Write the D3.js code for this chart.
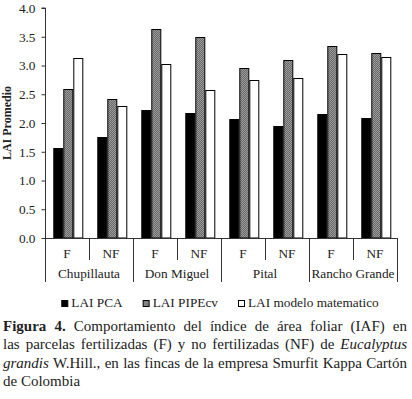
<!DOCTYPE html>
<html>
<head>
<meta charset="utf-8">
<script src="https://cdn.jsdelivr.net/npm/d3@7"></script>
<style>
  body { margin: 0; background: #fff; }
  #wrap { position: relative; width: 412px; height: 399px; overflow: hidden; }
  svg { position: absolute; left: 0; top: 0; }
  #caption { position: absolute; left: 3px; top: 317px; width: 404px;
             font-family: "Liberation Serif", "Times New Roman", serif; font-size: 15px;
             line-height: 18.3px; color: #222; }
  #caption div { text-align: justify; text-align-last: justify; white-space: nowrap; }
  #caption div.last { text-align-last: left; }
</style>
</head>
<body>
<div id="wrap">
  <div id="chart"></div>
  <div id="caption">
    <div><b>Figura 4.</b> Comportamiento del índice de área foliar (IAF) en</div>
    <div>las parcelas fertilizadas (F) y no fertilizadas (NF) de <i>Eucalyptus</i></div>
    <div><i>grandis</i> W.Hill., en las fincas de la empresa Smurfit Kappa Cartón</div>
    <div class="last">de Colombia</div>
  </div>
</div>
<script>
// fincas y tratamientos
var sites = ["Chupillauta", "Don Miguel", "Pital", "Rancho Grande"];
var treatments = ["F", "NF"];
var seriesNames = ["LAI PCA", "LAI PIPEcv", "LAI modelo matematico"];

// valores (orden: Chup F, Chup NF, DM F, DM NF, Pital F, Pital NF, RG F, RG NF)
var laiPCA    = [1.56, 1.75, 2.22, 2.18, 2.07, 1.95, 2.15, 2.08];
var laiPIPEcv = [2.59, 2.41, 3.63, 3.49, 2.96, 3.09, 3.34, 3.21];
var laiModelo = [3.13, 2.30, 3.02, 2.58, 2.74, 2.79, 3.20, 3.14];

var yTicks = [0, 0.5, 1, 1.5, 2, 2.5, 3, 3.5, 4];

var width = 412, height = 399;
var serif = "'Liberation Serif', 'Times New Roman', serif";

var cats = [];
sites.forEach(function(s) { treatments.forEach(function(t) { cats.push(s + "|" + t); }); });

var rows = cats.map(function(c, i) {
  return { key: c, site: c.split("|")[0], trt: c.split("|")[1], values: [laiPCA[i], laiPIPEcv[i], laiModelo[i]] };
});

var svg = d3.select("#chart").append("svg")
    .attr("width", width)
    .attr("height", height);

var defs = svg.append("defs");
var pat = defs.append("pattern")
    .attr("id", "dots")
    .attr("width", 2).attr("height", 2)
    .attr("patternUnits", "userSpaceOnUse");
pat.append("rect").attr("width", 2).attr("height", 2).attr("fill", "#9a9a9a");
pat.append("rect").attr("width", 1).attr("height", 1).attr("fill", "#6a6a6a");
pat.append("rect").attr("x", 1).attr("y", 1).attr("width", 1).attr("height", 1).attr("fill", "#6a6a6a");

var fills = ["#000", "url(#dots)", "#fff"];

var xScale = d3.scaleBand()
    .domain(cats)
    .range([45, 397]);

var xInner = d3.scaleBand()
    .domain(d3.range(3))
    .range([8.3, 38.3]);

var yScale = d3.scaleLinear()
    .domain([0, 4])
    .range([238, 8]);

// barras
var groups = svg.selectAll(".grp")
    .data(rows)
  .enter()
    .append("g")
    .attr("class", "grp")
    .attr("transform", function(d) { return "translate(" + xScale(d.key) + ",0)"; });

groups.selectAll("rect")
    .data(function(d) { return d.values; })
  .enter()
    .append("rect")
    .attr("x", function(d, i) { return xInner(i) + 0.5; })
    .attr("y", function(d) { return Math.round(yScale(d)) + 0.5; })
    .attr("width", xInner.bandwidth() - 1)
    .attr("height", function(d) { return yScale(0) - Math.round(yScale(d)) - 0.5; })
    .style("fill", function(d, i) { return fills[i]; })
    .style("stroke", "#000")
    .style("stroke-width", 1);

// eje y
var yAxis = d3.axisLeft()
    .scale(yScale)
    .tickValues(yTicks)
    .tickSize(4)
    .tickPadding(6)
    .tickFormat(d3.format(".1f"));

svg.append("g")
    .attr("class", "y axis")
    .attr("transform", "translate(45.5,0)")
    .call(yAxis);

svg.select(".y.axis path").attr("d", "M-4," + yScale(4) + "H0V" + yScale(0)).style("stroke", "#333");
svg.selectAll(".y.axis line").style("stroke", "#333");
svg.select(".y.axis")
    .selectAll("text")
    .style("fill", "#222")
    .style("font-size", "13.3px")
    .style("font-family", serif);

svg.append("text")
    .attr("text-anchor", "middle")
    .attr("transform", "rotate(-90)")
    .attr("x", -(yScale(0) + yScale(4)) / 2)
    .attr("y", 11)
    .text("LAI Promedio")
    .style("fill", "#222")
    .style("font-size", "12px")
    .style("font-weight", "bold")
    .style("font-family", serif);

// eje x
svg.append("line")
    .attr("x1", 45).attr("x2", 397)
    .attr("y1", yScale(0) + 0.5).attr("y2", yScale(0) + 0.5)
    .style("stroke", "#333");

svg.selectAll(".trtLabel")
    .data(rows)
  .enter()
    .append("text")
    .attr("class", "trtLabel")
    .attr("text-anchor", "middle")
    .attr("x", function(d) { return xScale(d.key) + xScale.bandwidth() / 2; })
    .attr("y", 258)
    .text(function(d) { return d.trt; })
    .style("fill", "#222")
    .style("font-size", "13.3px")
    .style("font-family", serif);

svg.selectAll(".siteLabel")
    .data(sites)
  .enter()
    .append("text")
    .attr("class", "siteLabel")
    .attr("text-anchor", "middle")
    .attr("x", function(d) { return xScale(d + "|F") + xScale.bandwidth(); })
    .attr("y", 278)
    .text(function(d) { return d; })
    .style("fill", "#222")
    .style("font-size", "13.3px")
    .style("font-family", serif);

// separadores entre F y NF
svg.selectAll(".sepInner")
    .data(sites)
  .enter()
    .append("line")
    .attr("class", "sepInner")
    .attr("x1", function(d) { return Math.round(xScale(d + "|NF")) + 0.5; })
    .attr("x2", function(d) { return Math.round(xScale(d + "|NF")) + 0.5; })
    .attr("y1", yScale(0))
    .attr("y2", 260)
    .style("stroke", "#333");

// separadores entre fincas
var outer = sites.map(function(s) { return xScale(s + "|F"); }).concat([xScale.range()[1]]);
svg.selectAll(".sepOuter")
    .data(outer)
  .enter()
    .append("line")
    .attr("class", "sepOuter")
    .attr("x1", function(d) { return Math.round(d) + 0.5; })
    .attr("x2", function(d) { return Math.round(d) + 0.5; })
    .attr("y1", yScale(0))
    .attr("y2", 282)
    .style("stroke", "#333");

// leyenda
var legend = svg.append("g").attr("class", "legend");
var items = legend.selectAll(".item")
    .data(seriesNames)
  .enter()
    .append("g")
    .attr("class", "item");

items.append("rect")
    .attr("x", 0.5).attr("y", 300.5)
    .attr("width", 6).attr("height", 6)
    .style("fill", function(d, i) { return fills[i]; })
    .style("stroke", "#000");

items.append("text")
    .attr("x", 10)
    .attr("y", 307)
    .text(function(d) { return d; })
    .style("fill", "#222")
    .style("font-size", "13.3px")
    .style("font-family", serif);

var pos = 0, offsets = [];
items.each(function(d, i) {
  offsets.push(pos);
  pos += 10 + this.querySelector("text").getComputedTextLength() + 20;
});
var total = pos - 20;
var startX = 220 - total / 2;
items.attr("transform", function(d, i) { return "translate(" + (startX + offsets[i]) + ",0)"; });
</script>
</body>
</html>
